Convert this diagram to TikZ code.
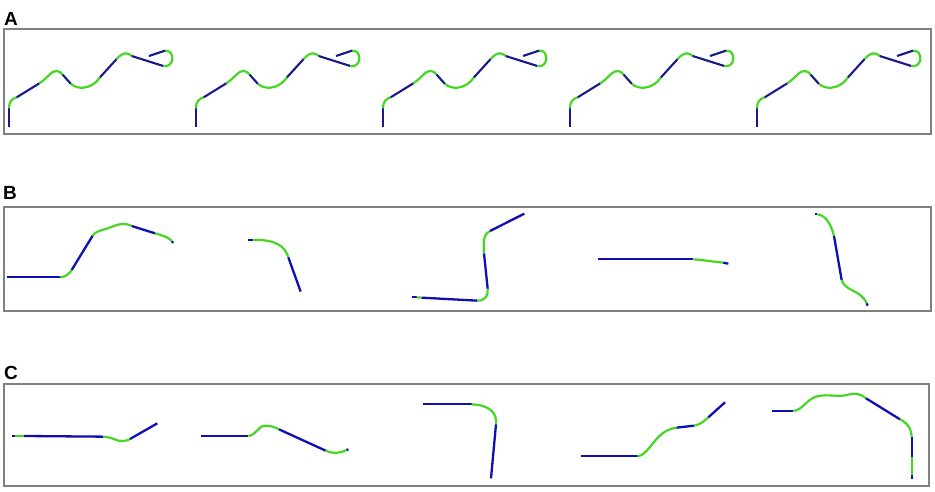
\documentclass[tikz,border=0pt]{standalone}
\usepackage{fontspec}
\setmainfont{Liberation Sans}
\begin{document}
\begin{tikzpicture}[x=1pt,y=-1pt,
  panel/.style={draw=black!50,line width=1.4pt},
  lab/.style={font=\fontsize{19}{19}\selectfont\bfseries,anchor=base west,inner sep=0pt},
  bl/.style={draw={rgb,255:red,25;green,25;blue,140},line width=2.1pt},
  bb/.style={draw={rgb,255:red,15;green,15;blue,180},line width=2.3pt},
  gr/.style={draw={rgb,255:red,70;green,215;blue,35},line width=2.2pt},
  zm/.style={scale=1/3}]
\useasboundingbox[fill=white] (0,0) rectangle (935,492);
% labels
\node[lab] (la) at (4,26) {A};
\node[lab] (lb) at (3,200) {B};
\node[lab] (lc) at (4,379) {C};
% panels
\draw[panel] (4,29) rectangle (931,134);
\draw[panel] (4,207) rectangle (931,311);
\draw[panel] (4,384) rectangle (929,486);
% panel A worms
\foreach \k in {0,...,4}{
\begin{scope}[shift={(187*\k,0)},zm]
\draw[bl] (27,380) -- (27,325);
\draw[gr] (27,325) .. controls (27,305) and (35,297) .. (50,292);
\draw[bl] (50,292) -- (118,250);
\draw[gr] (118,250) .. controls (145,232) and (155,210) .. (172,213) .. controls (180,215) and (184,219) .. (188,224);
\draw[bl] (188,224) -- (213,252);
\draw[gr] (213,252) .. controls (225,262) and (240,264) .. (250,263) .. controls (270,262) and (290,248) .. (300,232);
\draw[bl] (300,232) -- (350,177);
\draw[gr] (350,177) .. controls (360,165) and (370,160) .. (378,160) .. controls (385,160) and (390,164) .. (395,168);
\draw[bl] (395,168) -- (490,198);
\draw[gr] (490,198) .. controls (525,205) and (525,148) .. (495,152);
\draw[bl] (495,152) -- (447,168);
\end{scope}}
% panel B
\begin{scope}[shift={(0,170)},zm]
\draw[bb] (20,322) -- (180,322);
\draw[gr] (180,322) .. controls (198,320) and (208,312) .. (215,300);
\draw[bb] (215,300) -- (278,197);
\draw[gr] (278,197) .. controls (285,185) and (300,182) .. (320,176) .. controls (340,170) and (355,160) .. (375,162) .. controls (385,163) and (390,166) .. (395,168);
\draw[bb] (395,168) -- (465,190);
\draw[gr] (465,190) .. controls (495,198) and (510,205) .. (516,214);
\draw[bb] (516,214) -- (519,219);
\draw[bb] (745,210) -- (760,210);
\draw[gr] (760,210) .. controls (830,208) and (855,230) .. (865,262);
\draw[bb] (865,262) -- (902,365);
\end{scope}
\begin{scope}[shift={(390,200)},zm]
\draw[bb] (65,292) -- (80,292);
\draw[gr] (80,292) -- (95,293);
\draw[bb] (95,293) -- (262,302);
\draw[gr] (262,302) .. controls (288,302) and (295,285) .. (293,266);
\draw[bb] (293,266) -- (282,160);
\draw[gr] (282,160) .. controls (278,115) and (285,100) .. (300,93);
\draw[bb] (300,93) -- (403,41);
\end{scope}
\begin{scope}[shift={(580,230)},zm]
\draw[bb] (55,88) -- (340,88);
\draw[gr] (340,88) .. controls (370,90) and (400,95) .. (430,98);
\draw[bb] (430,98) -- (445,101);
\end{scope}
\begin{scope}[shift={(790,200)},zm]
\draw[bb] (75,43) -- (82,43);
\draw[gr] (82,43) .. controls (110,45) and (125,80) .. (132,108);
\draw[bb] (132,108) -- (155,240);
\draw[gr] (155,240) .. controls (165,275) and (212,268) .. (230,310);
\draw[bb] (230,310) -- (233,317);
\end{scope}
% panel C
\begin{scope}[shift={(0,360)},zm]
\draw[bb] (37,228) -- (45,228);
\draw[gr] (45,228) -- (72,228);
\draw[bb] (72,228) -- (310,230);
\draw[gr] (310,230) .. controls (340,232) and (350,245) .. (370,243) .. controls (380,242) and (385,240) .. (390,237);
\draw[bb] (390,237) -- (472,190);
\end{scope}
\begin{scope}[shift={(180,400)},zm]
\draw[bb] (62,108) -- (205,108);
\draw[gr] (205,108) .. controls (230,105) and (235,75) .. (258,77) .. controls (275,78) and (285,82) .. (297,88);
\draw[bb] (297,88) -- (437,152);
\draw[gr] (437,152) .. controls (460,162) and (480,160) .. (500,150);
\draw[bb] (500,150) -- (505,148);
\end{scope}
\begin{scope}[shift={(410,395)},zm]
\draw[bb] (38,28) -- (185,28);
\draw[gr] (185,28) .. controls (240,30) and (262,55) .. (258,88);
\draw[bb] (258,88) -- (243,250);
\end{scope}
\begin{scope}[shift={(570,395)},zm]
\draw[bb] (33,184) -- (203,184);
\draw[gr] (203,184) .. controls (240,180) and (255,105) .. (320,98);
\draw[bb] (320,98) -- (372,92);
\draw[gr] (372,92) .. controls (395,88) and (405,75) .. (415,67);
\draw[bb] (415,67) -- (465,22);
\end{scope}
\begin{scope}[shift={(760,380)},zm]
\draw[bb] (35,93) -- (100,93);
\draw[gr] (100,93) .. controls (130,90) and (140,55) .. (175,48) .. controls (210,42) and (230,52) .. (260,45) .. controls (285,38) and (300,40) .. (318,55);
\draw[bb] (318,55) -- (420,118);
\draw[gr] (420,118) .. controls (445,130) and (455,150) .. (455,170);
\draw[bb] (455,170) -- (455,232);
\draw[gr] (455,232) -- (455,285);
\draw[bb] (455,285) -- (455,298);
\end{scope}
\end{tikzpicture}
\end{document}
